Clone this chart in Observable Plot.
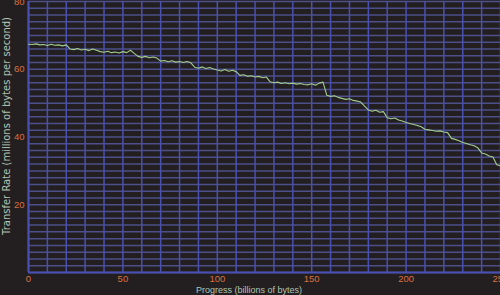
<!DOCTYPE html>
<html>
<head>
<meta charset="utf-8">
<script src="https://cdn.jsdelivr.net/npm/d3@7"></script>
<script src="https://cdn.jsdelivr.net/npm/@observablehq/plot@0.6"></script>
<style>
  html, body { margin: 0; padding: 0; background: #231f20; }
  #chart { width: 500px; height: 295px; overflow: hidden; }
</style>
</head>
<body>
<div id="chart"></div>
<script>
const progress = [0,2,4,6,8,10,12,14,16,18,20,22,24,26,28,30,32,34,36,38,40,42,44,46,48,50,52,54,56,58,60,62,64,66,68,70,72,74,76,78,80,82,84,86,88,90,92,94,96,98,100,102,104,106,108,110,112,114,116,118,120,122,124,126,128,130,132,134,136,138,140,142,144,146,148,150,152,154,156,158,160,162,164,166,168,170,172,174,176,178,180,182,184,186,188,190,192,194,196,198,200,202,204,206,208,210,212,214,216,218,220,222,224,226,228,230,232,234,236,238,240,242,244,246,248,250];
const rate = [67.4,67.3,67.5,67.2,67.3,67.0,67.4,67.1,67.2,66.9,67.2,66.0,65.8,66.1,65.7,65.9,65.5,66.0,65.6,65.2,65.0,65.3,64.9,65.1,64.8,65.2,64.9,65.6,64.7,63.8,63.5,63.8,63.4,63.6,63.3,62.4,62.6,62.2,62.5,62.1,62.3,62.0,62.3,61.9,60.6,60.3,60.7,60.2,60.5,60.1,59.8,59.5,59.9,59.4,59.7,59.3,58.2,58.4,57.9,58.1,57.7,57.9,57.5,57.7,56.3,56.0,56.2,55.8,56.0,55.7,55.9,55.6,55.8,55.5,55.4,55.7,55.3,55.9,56.2,52.3,52.0,52.2,51.7,51.4,51.1,51.3,50.8,50.6,50.3,49.1,48.0,47.6,47.9,47.3,47.5,45.7,45.4,45.6,45.0,44.7,44.3,44.0,43.7,43.4,43.0,42.3,42.1,41.9,41.7,41.8,41.5,41.3,39.6,39.3,38.9,38.4,38.1,37.7,37.4,36.8,35.3,35.0,34.4,34.1,31.8,31.5];
const xTicks = [0,50,100,150,200,250];
const yTicks = [20,40,60,80];
const xLabel = "Progress (billions of bytes)";
const yLabel = "Transfer Rate (millions of bytes per second)";

const data = progress.map((p, i) => ({p, r: rate[i]}));

const labelColor = "#b0c4b2";
const tickColor = "#d9703f";

const chart = Plot.plot({
  width: 500,
  height: 295,
  marginLeft: 28,
  marginRight: 0,
  marginTop: 1,
  marginBottom: 23,
  style: {background: "#231f20", fontFamily: "Liberation Sans", fontSize: "9px"},
  x: {domain: [0, 250]},
  y: {domain: [0, 80]},
  marks: [
    Plot.gridY({ticks: 40, stroke: "#4c4f88", strokeOpacity: 1, strokeWidth: 1.5}),
    Plot.gridX({ticks: 25, stroke: "#4a4fb2", strokeOpacity: 1, strokeWidth: 1.5}),
    Plot.ruleX([0], {stroke: "#4a4fb2", strokeWidth: 2}),
    Plot.ruleY([0], {stroke: "#4a4fb2", strokeWidth: 2}),
    Plot.axisX(xTicks, {tickSize: 0, tickPadding: 3, fill: tickColor, label: null, fontSize: 9.5}),
    Plot.axisY(yTicks, {tickSize: 0, tickPadding: 4, fill: tickColor, label: null, fontSize: 9.5}),
    Plot.line(data, {x: "p", y: "r", stroke: "#a3cc8c", strokeWidth: 1.1})
  ]
});

const svg = d3.select(chart);
svg.append("text")
  .attr("x", 249).attr("y", 293)
  .attr("text-anchor", "middle")
  .attr("fill", labelColor)
  .style("font-family", "Liberation Sans")
  .style("font-size", "9px")
  .text(xLabel);
svg.append("text")
  .attr("transform", "translate(10,126) rotate(-90)")
  .attr("text-anchor", "middle")
  .attr("fill", labelColor)
  .style("font-family", "DejaVu Sans")
  .style("font-size", "10px")
  .text(yLabel);

document.getElementById("chart").appendChild(chart);
</script>
</body>
</html>
